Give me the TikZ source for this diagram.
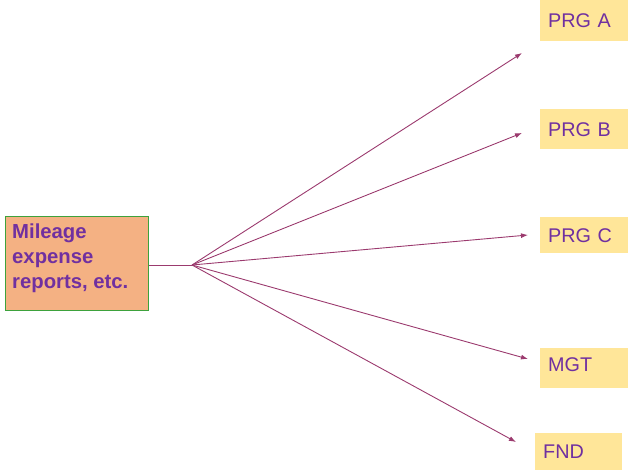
\documentclass[tikz,border=0pt]{standalone}
\usepackage{fontspec}
\setmainfont{Liberation Sans}
\usetikzlibrary{arrows.meta}
\definecolor{srcfill}{HTML}{F4B183}
\definecolor{srcedge}{HTML}{3DA23D}
\definecolor{tgtfill}{HTML}{FFE699}
\definecolor{txtpurple}{HTML}{7030A0}
\definecolor{flow}{HTML}{9B3A6E}
\tikzset{
  srcbox/.style={draw=srcedge, line width=1pt, fill=srcfill, anchor=north west, inner sep=0pt},
  srctext/.style={anchor=north west, inner sep=0pt, text=txtpurple, align=left,
    font=\fontsize{20.3}{25}\selectfont\bfseries},
  tgtbox/.style={fill=tgtfill, anchor=north west, inner xsep=8pt, inner ysep=0pt,
    text=txtpurple, font=\fontsize{19.8}{22}\selectfont, align=left},
  flowline/.style={draw=flow, line width=0.9pt},
  flowarrow/.style={flowline, -{Latex[length=7pt,width=5pt]}}
}
\begin{document}
\begin{tikzpicture}[x=1pt,y=-1pt]
  \useasboundingbox (0,0) rectangle (628,470);

  % source box
  \node[srcbox, minimum width=143pt, minimum height=94pt] (src) at (5,216) {};
  \node[srctext] (srclabel) at (12,224) {Mileage\\expense\\reports, etc.};

  % target boxes
  \node[tgtbox, minimum width=88pt, minimum height=41pt, text width=72pt] (prga) at (540,0) {PRG A};
  \node[tgtbox, minimum width=88pt, minimum height=40pt, text width=72pt] (prgb) at (540,109) {PRG B};
  \node[tgtbox, minimum width=88pt, minimum height=36pt, text width=72pt] (prgc) at (540,217) {PRG C};
  \node[tgtbox, minimum width=88pt, minimum height=40pt, text width=72pt, text depth=8pt] (mgt) at (540,348) {MGT};
  \node[tgtbox, minimum width=87pt, minimum height=37pt, text width=71pt] (fnd) at (535,433) {FND};

  % fan-out point and arrow ends
  \coordinate (hub) at (192,265);
  \coordinate (endA) at (522,53);
  \coordinate (endB) at (522,133);
  \coordinate (endC) at (528,235);
  \coordinate (endM) at (528,359);
  \coordinate (endF) at (516,442);

  \draw[flowline] (src.east |- hub) -- (hub);
  \draw[flowarrow] (hub) -- (endA);
  \draw[flowarrow] (hub) -- (endB);
  \draw[flowarrow] (hub) -- (endC);
  \draw[flowarrow] (hub) -- (endM);
  \draw[flowarrow] (hub) -- (endF);
\end{tikzpicture}
\end{document}
